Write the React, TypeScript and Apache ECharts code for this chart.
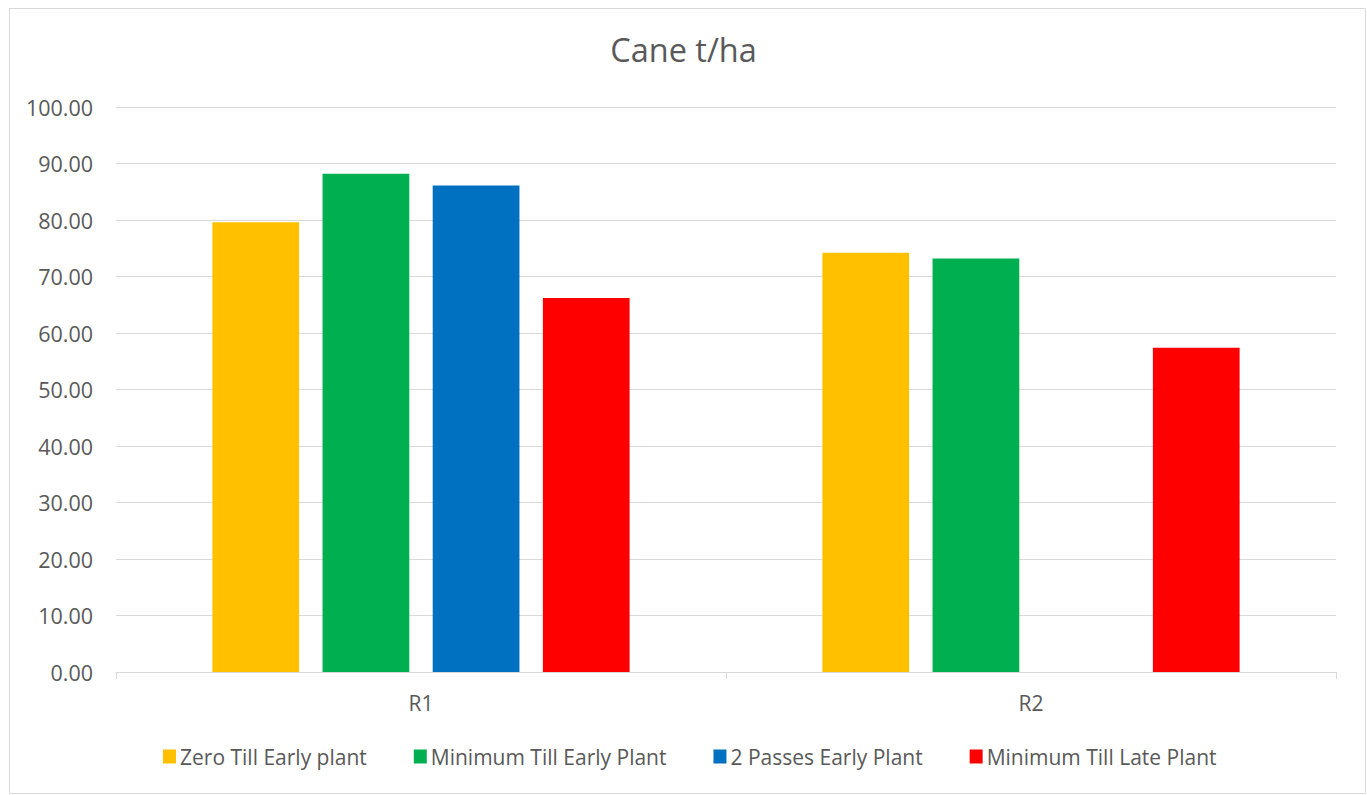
import React, { useEffect, useRef } from "react";
import * as echarts from "echarts";

const categories = ["R1", "R2"];
const seriesNames = [
  "Zero Till Early plant",
  "Minimum Till Early Plant",
  "2 Passes Early Plant",
  "Minimum Till Late Plant",
];
const zeroTillEarly = [79.6, 74.2];
const minTillEarly = [88.2, 73.2];
const twoPassesEarly: (number | string)[] = [86.1, "-"];
const minTillLate = [66.2, 57.4];
const colors = ["#FFC000", "#00B050", "#0070C0", "#FF0000"];
const yTicks = { min: 0, max: 100, interval: 10 };

export default function App() {
  const ref = useRef<HTMLDivElement>(null);
  useEffect(() => {
    if (!ref.current) return;
    const chart = echarts.init(ref.current, null, { renderer: "svg" });
    const font = "'Open Sans', sans-serif";
    const values = [zeroTillEarly, minTillEarly, twoPassesEarly, minTillLate];
    chart.setOption({
      animation: false,
      textStyle: { fontFamily: font },
      title: {
        text: "Cane t/ha",
        left: "center",
        top: 33,
        padding: 0,
        textStyle: { fontFamily: font, fontSize: 32.5, fontWeight: "normal", color: "#595959" },
      },
      graphic: [
        {
          type: "rect",
          shape: { x: 9.5, y: 8.5, width: 1356, height: 785 },
          style: { fill: "none", stroke: "#d9d9d9", lineWidth: 1 },
          silent: true,
        },
      ],
      legend: {
        data: seriesNames,
        left: 163,
        top: 746,
        padding: 0,
        icon: "rect",
        itemWidth: 13,
        itemHeight: 14,
        itemGap: 47,
        textStyle: { fontFamily: font, fontSize: 21, color: "#595959", padding: [0, 0, 0, -1] },
      },
      grid: { left: 116, right: 31, top: 107, bottom: 123 },
      xAxis: {
        type: "category",
        data: categories,
        axisLine: { lineStyle: { color: "#d9d9d9", width: 1 } },
        axisTick: { show: true, length: 7, lineStyle: { color: "#d9d9d9" } },
        axisLabel: { fontFamily: font, fontSize: 21, color: "#595959", margin: 20 },
      },
      yAxis: {
        type: "value",
        min: yTicks.min,
        max: yTicks.max,
        interval: yTicks.interval,
        axisLine: { show: false },
        axisTick: { show: false },
        splitLine: { lineStyle: { color: "#d9d9d9", width: 1 } },
        axisLabel: {
          fontFamily: font,
          fontSize: 21.5,
          color: "#595959",
          margin: 23,
          formatter: (v: number) => v.toFixed(2),
        },
      },
      series: seriesNames.map((name, i) => ({
        name,
        type: "bar",
        data: values[i],
        itemStyle: { color: colors[i] },
        barGap: "27%",
        barCategoryGap: "31.6%",
      })),
    });
    return () => chart.dispose();
  }, []);
  return (
    <div
      ref={ref}
      style={{ position: "fixed", left: 0, top: 0, width: 1367, height: 795, background: "#fff" }}
    />
  );
}
